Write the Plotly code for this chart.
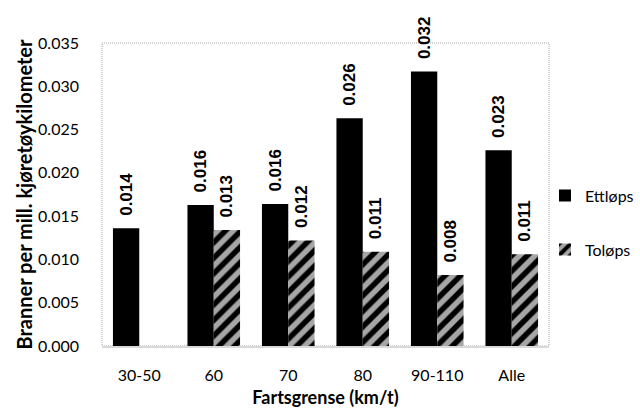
import plotly.graph_objects as go

# Fires per million vehicle-kilometres by speed limit
categories = ["30-50", "60", "70", "80", "90-110", "Alle"]
ettlops = [0.0136, 0.0163, 0.0164, 0.0263, 0.0317, 0.0226]
tolops = [None, 0.0134, 0.0122, 0.0109, 0.0082, 0.0106]
y_ticks = [0.000, 0.005, 0.010, 0.015, 0.020, 0.025, 0.030, 0.035]

tick_font = dict(family="Lato, Calibri, sans-serif", size=16, color="#000000")
title_font = dict(family="Lato, Calibri, sans-serif", size=18, color="#000000")
label_font = dict(family="Liberation Sans, Arial, sans-serif", size=17, color="#000000")

# Value labels sit a little above each bar
label_template = "\u00a0\u00a0%{y:.3f}"

fig = go.Figure()
fig.add_trace(go.Bar(
    x=categories, y=ettlops, name="Ettløps",
    marker=dict(color="#000000", line=dict(width=0)),
    texttemplate=label_template, textposition="outside", textangle=-90,
    constraintext="none",
    textfont=dict(label_font, weight="bold"), cliponaxis=False,
    legendgroup="a",
))
fig.add_trace(go.Bar(
    x=categories, y=tolops, name="Toløps",
    marker=dict(color="#a6a6a6", line=dict(width=0),
                pattern=dict(shape="/", bgcolor="#a6a6a6", fgcolor="#000000",
                             fgopacity=1, size=11, solidity=0.5,
                             fillmode="replace")),
    texttemplate=label_template, textposition="outside", textangle=-90,
    constraintext="none",
    textfont=dict(label_font, weight="bold"), cliponaxis=False,
    legendgroup="b",
))

# Fine dotted frame around the plot area
fig.add_shape(type="rect", xref="paper", yref="paper", x0=0, y0=0, x1=1, y1=1,
              line=dict(color="#a6a6a6", width=1, dash="1px,1px"), layer="below")

fig.update_layout(
    width=640, height=412,
    margin=dict(l=102, r=91, t=43, b=66, autoexpand=False),
    paper_bgcolor="#ffffff", plot_bgcolor="#ffffff",
    barmode="group", bargap=0.294, bargroupgap=0,
    font=tick_font,
    showlegend=True,
    legend=dict(x=0.991, y=0.407, xanchor="left", yanchor="middle",
                font=tick_font, tracegroupgap=30, itemwidth=30,
                bgcolor="rgba(0,0,0,0)"),
    xaxis=dict(
        automargin=False,
        showgrid=False, showline=True, linecolor="#d9d9d9", linewidth=2,
        ticks="", ticklabelstandoff=14, tickfont=tick_font,
        title=dict(text="<b>Fartsgrense (km/t)</b>", font=title_font, standoff=8),
    ),
    yaxis=dict(
        automargin=False,
        range=[0, 0.035], tickvals=y_ticks, tickformat=".3f",
        showgrid=False, showline=False, zeroline=False, ticks="",
        ticklabelstandoff=22, tickfont=tick_font,
        title=dict(text="<b>Branner per mill. kjøretøykilometer</b>",
                   font=dict(title_font, size=20), standoff=0),
    ),
)

fig.write_html("out.html")
